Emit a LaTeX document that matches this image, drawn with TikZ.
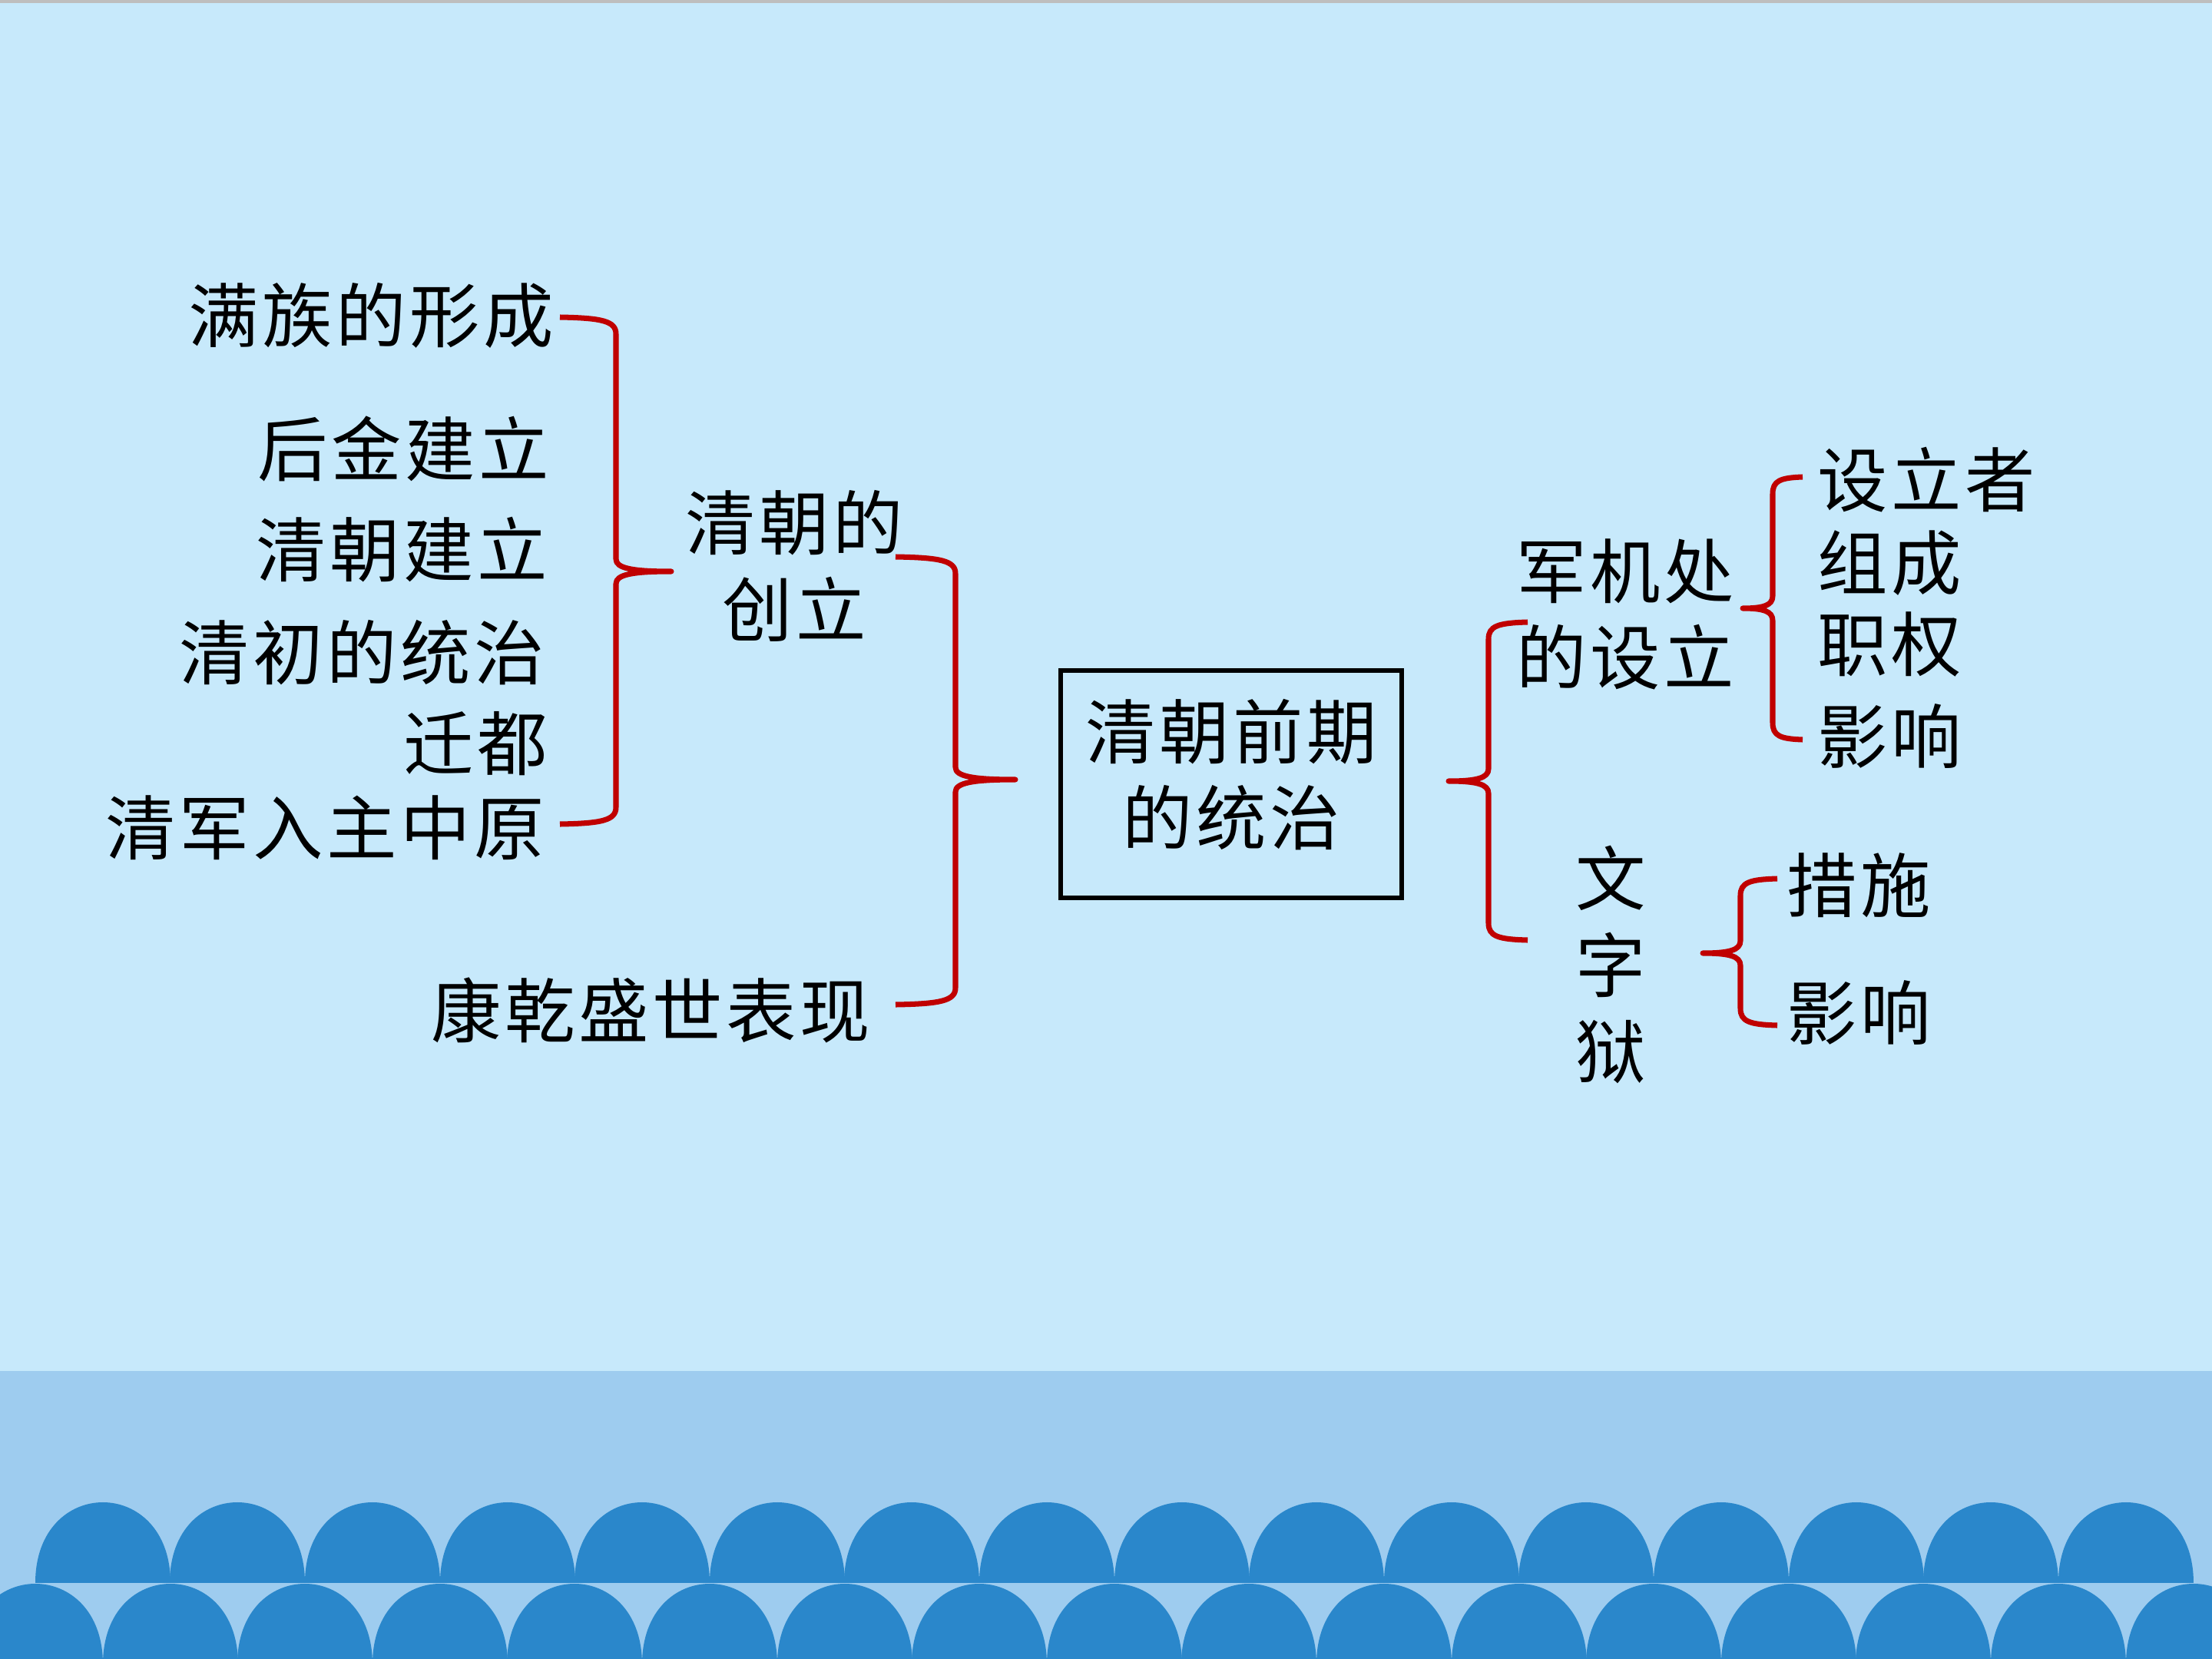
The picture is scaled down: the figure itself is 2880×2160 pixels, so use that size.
\documentclass[tikz,border=0pt]{standalone}
\usepackage{fontspec}
\newfontfamily\cjk[LetterSpace=5]{Noto Sans CJK SC}
\definecolor{skybg}{HTML}{C7E9FB}
\definecolor{bandbg}{HTML}{9ECCEF}
\definecolor{wave}{HTML}{2A87CB}
\definecolor{bracered}{HTML}{C00000}
\definecolor{topline}{HTML}{BEBEBE}
\newcommand\mybrace[6]{% xa, xv, xt, ytop, ymid, ybot
  \draw[bracestyle] (#1,#4) .. controls ({#1+0.75*(#2-#1)},{#4+1}) and (#2,{#4+5}) .. (#2,{#4+22})
    -- (#2,{#5-16}) .. controls (#2,{#5-4}) and ({#2+0.3*(#3-#2)},#5) .. (#3,#5)
    .. controls ({#2+0.3*(#3-#2)},#5) and (#2,{#5+4}) .. (#2,{#5+16})
    -- (#2,{#6-22}) .. controls (#2,{#6-5}) and ({#1+0.75*(#2-#1)},{#6-1}) .. (#1,#6);}
\newcommand\scallop[2]{% cx, base y
  \fill[wave] ({#1-88},#2) .. controls ({#1-88},{#2-140}) and ({#1+88},{#2-140}) .. ({#1+88},#2) -- cycle;}
\begin{document}
\begin{tikzpicture}[x=0.01cm,y=-0.01cm,
  txt/.style={inner sep=0pt, font=\cjk\fontsize{26}{32}\selectfont, text=black},
  bracestyle/.style={draw=bracered, line width=2pt, line join=round},
  rootbox/.style={txt, draw=black, line width=1.7pt, minimum width=4.44cm, minimum height=2.95cm}]
\useasboundingbox (0,0) rectangle (2880,2160);
% background
\fill[skybg] (0,0) rectangle (2880,2160);
\fill[topline] (0,0) rectangle (2880,4);
\fill[bandbg] (0,1785) rectangle (2880,2160);
\foreach \k in {0,...,15} {\scallop{133.8+175.6*\k}{2061}}
\foreach \k in {0,...,16} {\scallop{46+175.6*\k}{2167}}
% left column
\node[txt, anchor=east] (a1) at (722,411) {满族的形成};
\node[txt, anchor=east] (a2) at (716,584) {后金建立};
\node[txt, anchor=east] (a3) at (714,716) {清朝建立};
\node[txt, anchor=east] (a4) at (710,850) {清初的统治};
\node[txt, anchor=east] (a5) at (714,968) {迁都};
\node[txt, anchor=east] (a6) at (710,1078) {清军入主中原};
\node[txt, align=center] (b1) at (1034,737) {清朝的\\创立};
\node[txt] (b2) at (847,1315) {康乾盛世表现};
\node[rootbox] (root) at (1603,1021) {\raisebox{0.13cm}{\begin{tabular}{@{}c@{}}清朝前期\\的统治\end{tabular}}};
\node[txt, align=center] (c1) at (2116,800) {军机处\\的设立};
\node[txt, align=center] (c2) at (2097,1256) {文\\字\\狱};
\node[txt, anchor=west] (d1) at (2366,625) {设立者};
\node[txt, anchor=west] (d2) at (2366,733) {组成};
\node[txt, anchor=west] (d3) at (2366,839) {职权};
\node[txt, anchor=west] (d4) at (2366,959) {影响};
\node[txt, anchor=west] (e1) at (2326,1153) {措施};
\node[txt, anchor=west] (e2) at (2326,1319) {影响};
% braces
\mybrace{729}{802}{874}{413}{744}{1073}
\mybrace{1166}{1244}{1322}{725}{1015}{1308}
\mybrace{1989}{1938}{1886}{810}{1017}{1224}
\mybrace{2347}{2308}{2269}{621}{792}{963}
\mybrace{2314}{2266}{2217}{1144}{1241}{1335}
\end{tikzpicture}
\end{document}
